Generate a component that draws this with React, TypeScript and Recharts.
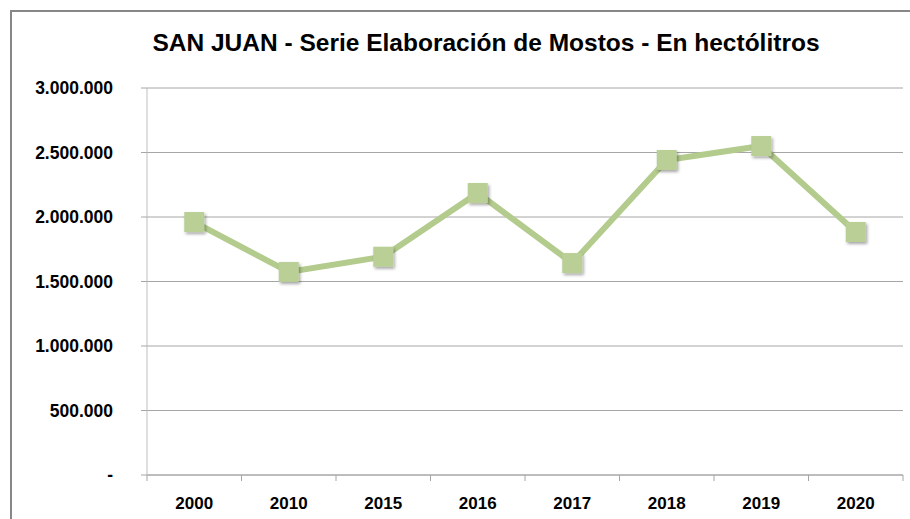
import React from "react";
import { LineChart, Line, XAxis, YAxis, CartesianGrid } from "recharts";

const years = ["2000", "2010", "2015", "2016", "2017", "2018", "2019", "2020"];
const mostos = [1961000, 1574000, 1692000, 2186000, 1643000, 2442000, 2550000, 1884000];
const yTicks = [0, 500000, 1000000, 1500000, 2000000, 2500000, 3000000];

const data = years.map((y, i) => ({ year: y, value: mostos[i] }));

const fmt = (v: number) => (v === 0 ? "-" : v.toString().replace(/\B(?=(\d{3})+(?!\d))/g, "."));

const FONT = "'Liberation Sans', Arial, sans-serif";
const HALF = 47.25;

function XTick(props: any) {
  const { x, y, payload, index } = props;
  return (
    <g>
      <line x1={x - HALF} x2={x - HALF} y1={y - 8} y2={y - 2} stroke="#a6a6a6" />
      {index === years.length - 1 && (
        <line x1={x + HALF} x2={x + HALF} y1={y - 8} y2={y - 2} stroke="#a6a6a6" />
      )}
      <text x={x} y={y + 26} textAnchor="middle" fontFamily={FONT} fontWeight="bold" fontSize={17} fill="#000">
        {payload.value}
      </text>
    </g>
  );
}

function SquareDot(props: any) {
  const { cx, cy } = props;
  if (cx == null || cy == null) return null;
  return (
    <rect x={cx - 10} y={cy - 10} width={20} height={20} fill="#b9cf96" filter="url(#markerShadow)" />
  );
}

export default function App() {
  return (
    <div style={{ position: "absolute", left: 0, top: 0, width: 910, height: 519, overflow: "hidden", background: "#fff" }}>
      <div
        style={{
          position: "absolute",
          left: 10,
          top: 10,
          width: 960,
          height: 560,
          border: "2px solid #878787",
        }}
      />
      <div
        style={{
          position: "absolute",
          left: 0,
          top: 29,
          width: 972,
          textAlign: "center",
          fontFamily: FONT,
          fontWeight: "bold",
          fontSize: 24.5,
          color: "#000",
        }}
      >
        SAN JUAN - Serie Elaboración de Mostos - En hectólitros
      </div>
      <div style={{ position: "absolute", left: 0, top: 0 }}>
        <LineChart width={910} height={519} data={data} margin={{ top: 88, right: 7, bottom: 0, left: 7 }}>
          <defs>
            <filter id="markerShadow" x="-50%" y="-50%" width="200%" height="200%">
              <feDropShadow dx="1.5" dy="2" stdDeviation="1.5" floodColor="#000" floodOpacity="0.35" />
            </filter>
          </defs>
          <CartesianGrid horizontal vertical={false} stroke="#a6a6a6" />
          <XAxis
            dataKey="year"
            height={44}
            padding={{ left: HALF, right: HALF }}
            axisLine={{ stroke: "#a6a6a6" }}
            tickLine={false}
            tick={<XTick />}
            interval={0}
          />
          <YAxis
            width={140}
            domain={[0, 3000000]}
            ticks={yTicks}
            tickFormatter={fmt}
            axisLine={{ stroke: "#bfbfbf" }}
            tickLine={{ stroke: "#a6a6a6" }}
            tickSize={6}
            tickMargin={28}
            tick={{ fontFamily: FONT, fontWeight: "bold", fontSize: 17.5, fill: "#000" }}
            interval={0}
          />
          <Line
            type="linear"
            dataKey="value"
            stroke="#b3cb8d"
            strokeWidth={6}
            dot={<SquareDot />}
            activeDot={false}
            isAnimationActive={false}
          />
        </LineChart>
      </div>
    </div>
  );
}
